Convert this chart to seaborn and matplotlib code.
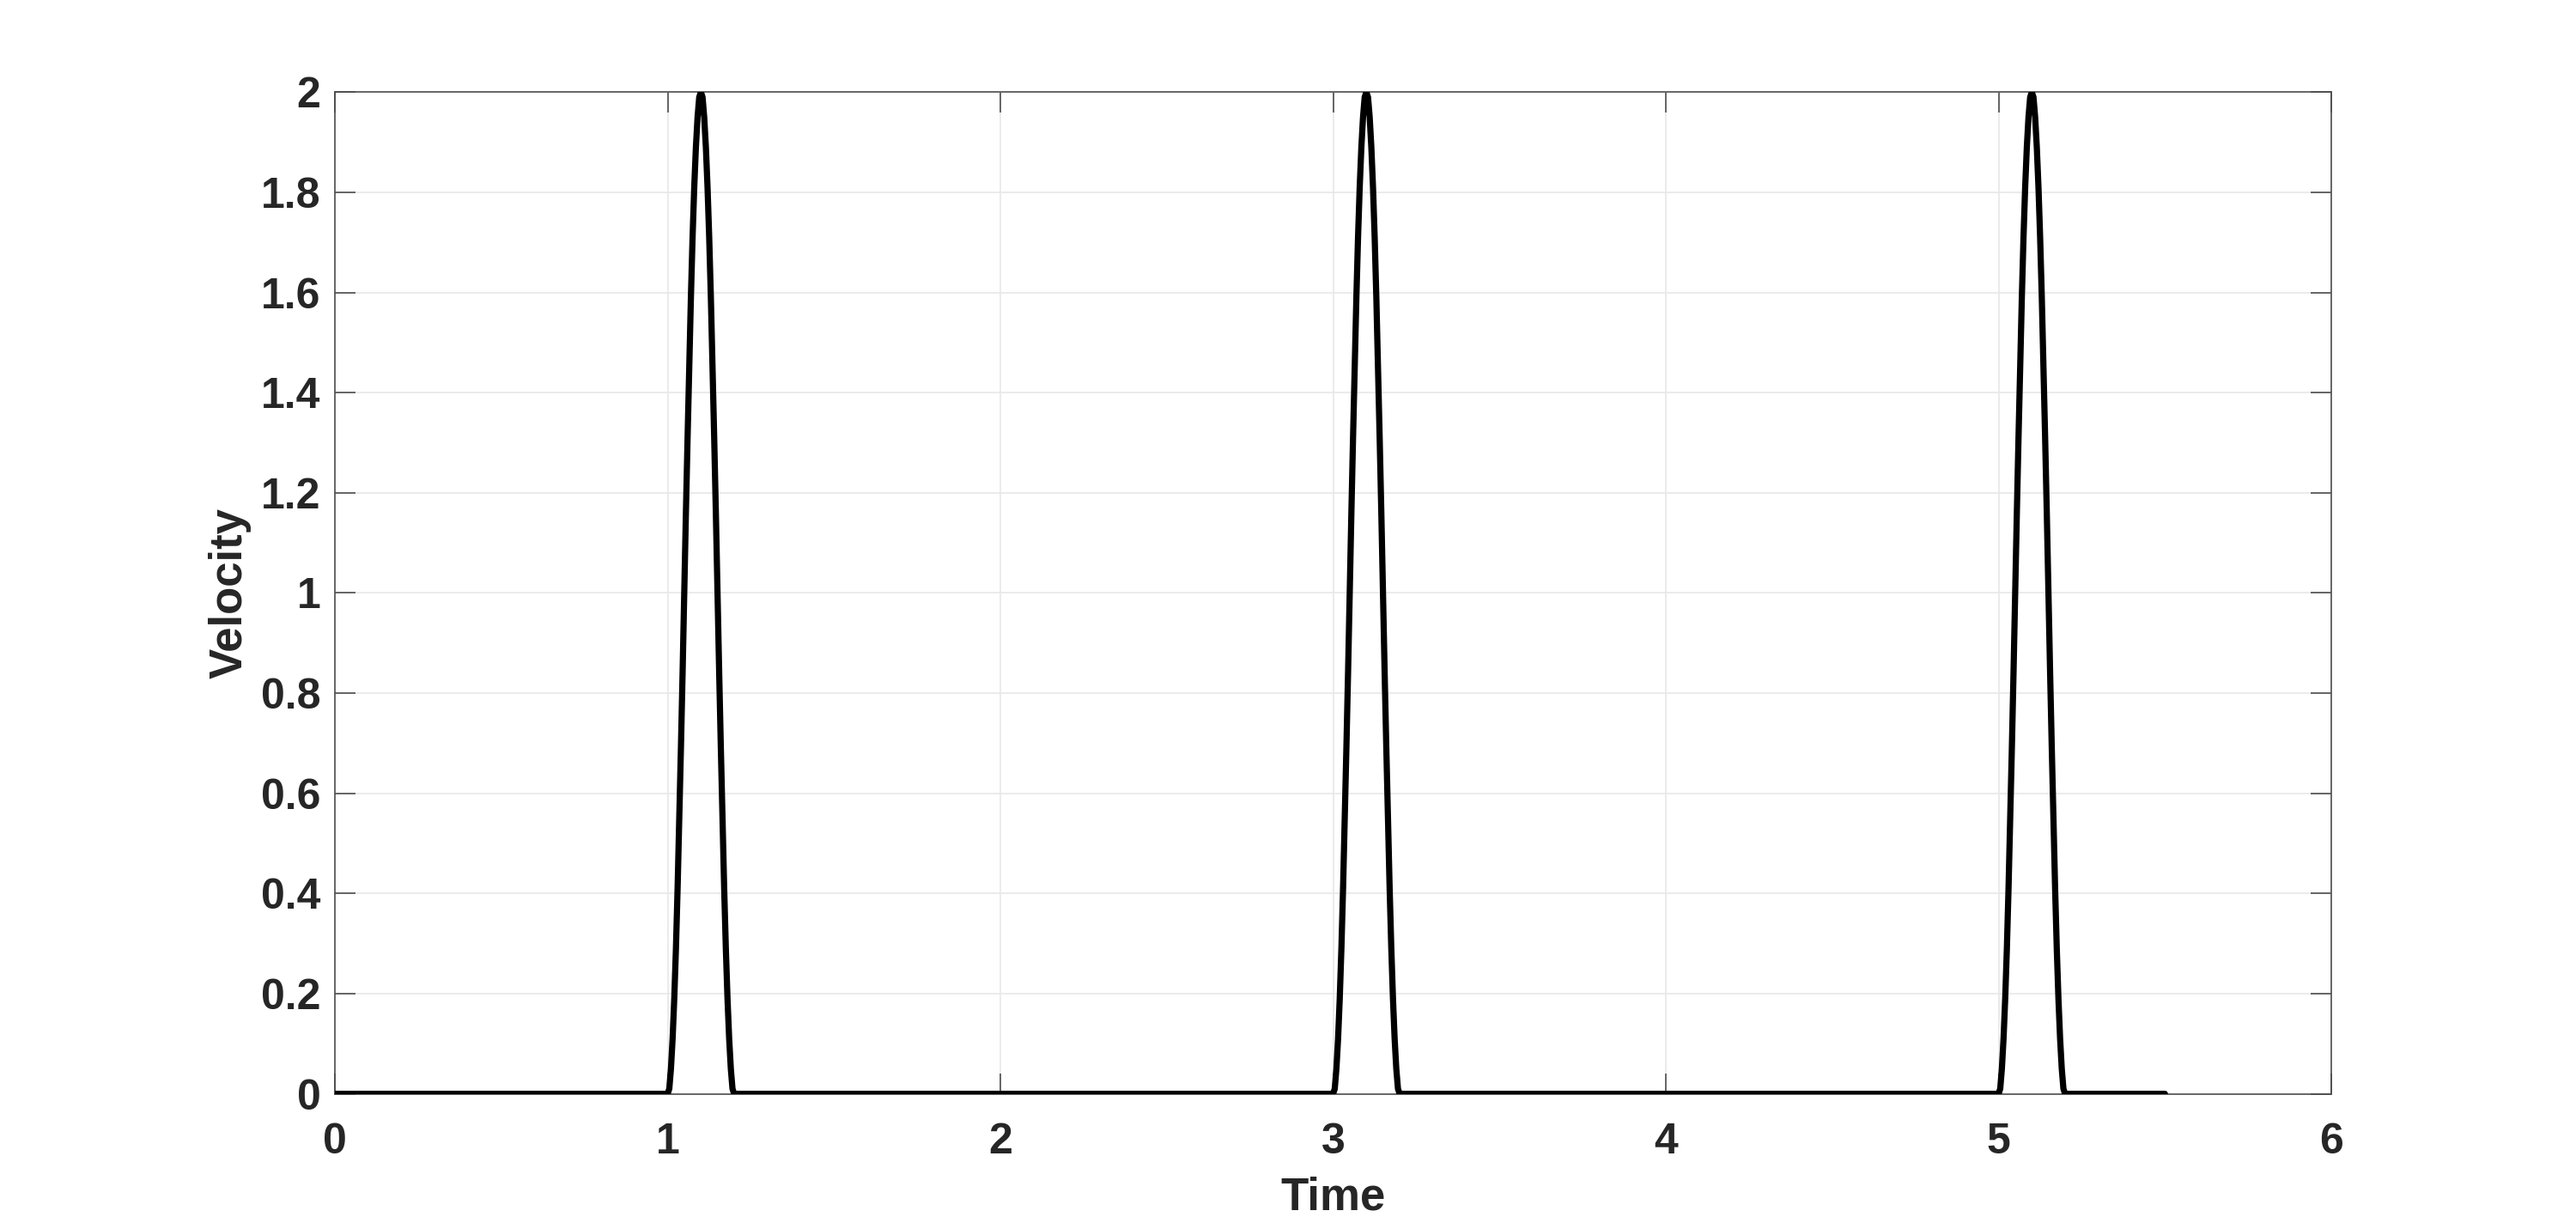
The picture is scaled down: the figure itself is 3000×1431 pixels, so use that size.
import matplotlib
matplotlib.use('Agg')
import matplotlib.pyplot as plt
import seaborn as sns
import numpy as np
import pandas as pd

# pulse shape (time offset from pulse start, velocity)
pulse_offsets = [0.000, 0.005, 0.010, 0.015, 0.020, 0.025, 0.030, 0.035, 0.040, 0.045,
                 0.050, 0.055, 0.060, 0.065, 0.070, 0.075, 0.080, 0.085, 0.090, 0.095,
                 0.100, 0.105, 0.110, 0.115, 0.120, 0.125, 0.130, 0.135, 0.140, 0.145,
                 0.150, 0.155, 0.160, 0.165, 0.170, 0.175, 0.180, 0.185, 0.190, 0.195,
                 0.200]
pulse_velocity = [0.00, 0.01, 0.05, 0.11, 0.19, 0.29, 0.41, 0.55, 0.69, 0.84,
                  1.00, 1.16, 1.31, 1.45, 1.59, 1.71, 1.81, 1.89, 1.95, 1.99,
                  2.00, 1.99, 1.95, 1.89, 1.81, 1.71, 1.59, 1.45, 1.31, 1.16,
                  1.00, 0.84, 0.69, 0.55, 0.41, 0.29, 0.19, 0.11, 0.05, 0.01,
                  0.00]
pulse_starts = [1.0, 3.0, 5.0]
t_start = 0.0
t_end = 5.5

x_ticks = [0, 1, 2, 3, 4, 5, 6]
y_ticks = [0, 0.2, 0.4, 0.6, 0.8, 1, 1.2, 1.4, 1.6, 1.8, 2]

# build the full trace: flat zero between pulses
time = [t_start]
velocity = [0.0]
for s in pulse_starts:
    time += [s + o for o in pulse_offsets]
    velocity += pulse_velocity
time.append(t_end)
velocity.append(0.0)
df = pd.DataFrame({'Time': time, 'Velocity': velocity})

sns.set_style('white')
plt.rcParams['font.family'] = ['Liberation Sans', 'DejaVu Sans']
plt.rcParams['font.weight'] = 'bold'

fig = plt.figure(figsize=(15, 7.155), dpi=200)
ax = fig.add_axes([0.13, 0.11, 0.775, 0.815])
sns.lineplot(data=df, x='Time', y='Velocity', color='black', linewidth=2.6,
             sort=False, estimator=None, ax=ax, zorder=3)

ax.set_xlim(0, 6)
ax.set_ylim(0, 2)
ax.set_xticks(x_ticks)
ax.set_yticks(y_ticks)
ax.set_xticklabels([f'{v:g}' for v in x_ticks])
ax.set_yticklabels([f'{v:g}' for v in y_ticks])
ax.grid(True, color='#e8e8e8', linewidth=0.6, zorder=0)
ax.set_axisbelow(True)

for sp in ax.spines.values():
    sp.set_visible(True)
    sp.set_color('#4d4d4d')
    sp.set_linewidth(0.6)

ax.tick_params(axis='both', which='both', direction='in', length=8.5, width=0.6,
               color='#4d4d4d', labelsize=18, labelcolor='#262626',
               top=True, right=True, left=True, bottom=True)
ax.tick_params(axis='x', pad=12)
ax.tick_params(axis='y', pad=6)
for lbl in ax.get_xticklabels() + ax.get_yticklabels():
    lbl.set_fontweight('bold')

ax.set_xlabel('Time', fontsize=19, fontweight='bold', color='#262626', labelpad=6)
ax.set_ylabel('Velocity', fontsize=19, fontweight='bold', color='#262626', labelpad=4)

fig.savefig('out.png', dpi=200, facecolor='white')
